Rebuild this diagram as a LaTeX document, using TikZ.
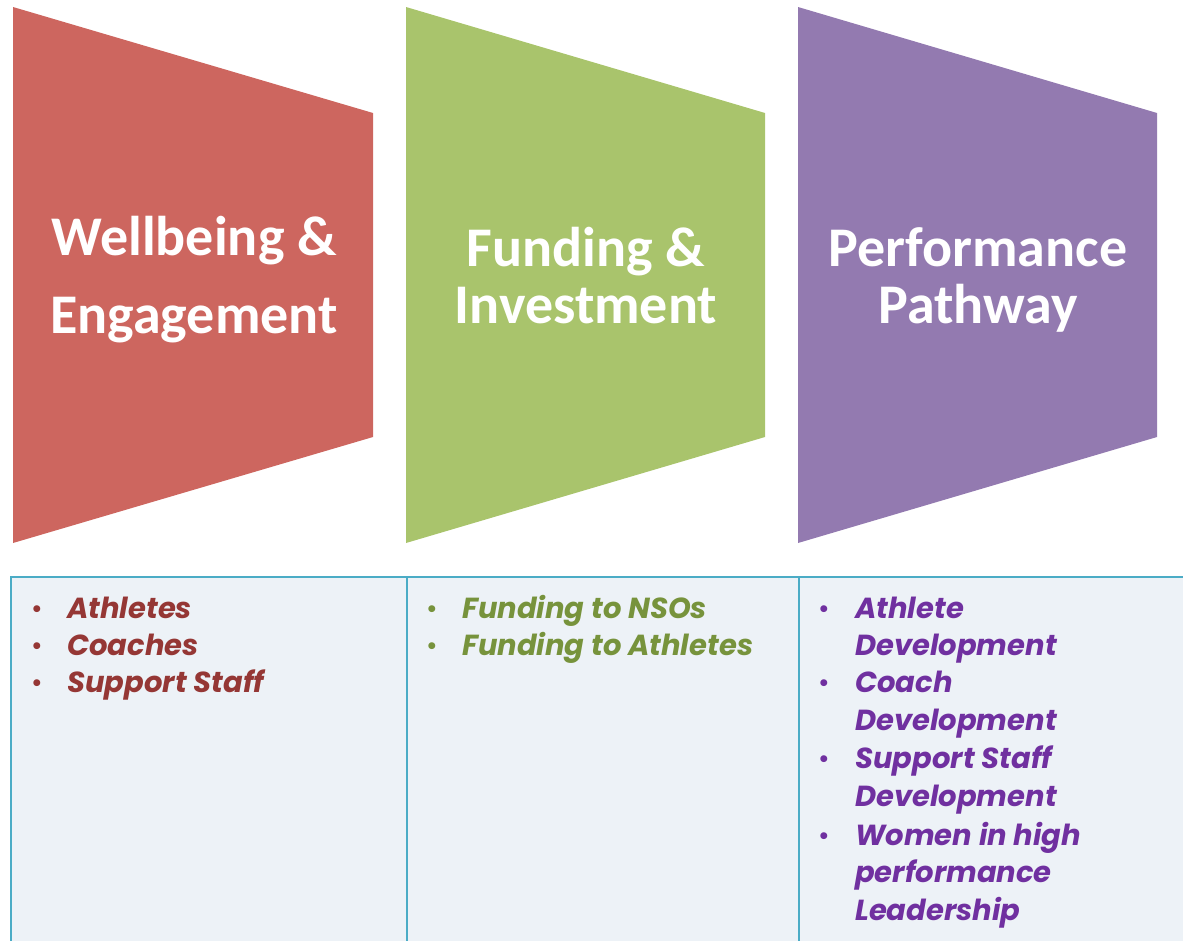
\documentclass[tikz,border=0pt]{standalone}
\usepackage{fontspec}
\setmainfont{Carlito}
\newfontfamily\itemfont{Poppins}
\definecolor{redfill}{HTML}{CD665F}
\definecolor{greenfill}{HTML}{A9C46C}
\definecolor{purplefill}{HTML}{937AB0}
\definecolor{redtext}{HTML}{953735}
\definecolor{greentext}{HTML}{77933C}
\definecolor{purpletext}{HTML}{7030A0}
\definecolor{tableline}{HTML}{4BACC6}
\definecolor{tablefill}{HTML}{EDF2F7}
\tikzset{
  title/.style={text=white, anchor=base, inner sep=0pt, font=\fontsize{56}{66}\selectfont\bfseries},
  itemtext/.style={anchor=base west, inner sep=0pt, font=\itemfont\fontsize{29}{34}\selectfont\bfseries\itshape},
  bul/.style={anchor=base, inner sep=0pt, font=\itemfont\fontsize{28}{32}\selectfont},
  grid/.style={draw=tableline, line width=2.5pt}
}
\begin{document}
\begin{tikzpicture}[x=1pt,y=-1pt]
\useasboundingbox (0,0) rectangle (1183,940);
% shapes
\fill[redfill] (13,7) -- (373,113) -- (373,437) -- (13,543) -- cycle;
\fill[greenfill] (406,7) -- (765,113) -- (765,437) -- (406,543) -- cycle;
\fill[purplefill] (798,7) -- (1157,113) -- (1157,437) -- (798,543) -- cycle;
% titles
\node[title] (t1a) at (194,255) {Wellbeing \&};
\node[title] (t1b) at (194,333) {Engagement};
\node[title] (t2a) at (586,266) {Funding \&};
\node[title] (t2b) at (586,323) {Investment};
\node[title] (t3a) at (978,266) {Performance};
\node[title] (t3b) at (978,323) {Pathway};
% table
\begin{scope}
\clip (0,0) rectangle (1183,940);
\fill[tablefill] (11,577) rectangle (1200,960);
\draw[grid] (11,960) -- (11,577) -- (1200,577);
\draw[grid] (407,577) -- (407,960);
\draw[grid] (799,577) -- (799,960);
\end{scope}
% column 1
\begin{scope}[every node/.append style={text=redtext}]
\node[bul] (b11) at (37,618) {•};
\node[itemtext] (i11) at (67,618) {Athletes};
\node[bul] (b12) at (37,655) {•};
\node[itemtext] (i12) at (67,655) {Coaches};
\node[bul] (b13) at (37,692) {•};
\node[itemtext] (i13) at (67,692) {Support Staff};
\end{scope}
% column 2
\begin{scope}[every node/.append style={text=greentext}]
\node[bul] (b21) at (432,618) {•};
\node[itemtext] (i21) at (462,618) {Funding to NSOs};
\node[bul] (b22) at (432,655) {•};
\node[itemtext] (i22) at (462,655) {Funding to Athletes};
\end{scope}
% column 3
\begin{scope}[every node/.append style={text=purpletext}]
\node[bul] (b31) at (824,618) {•};
\node[itemtext] (i31) at (855,618) {Athlete};
\node[itemtext] (i32) at (855,655) {Development};
\node[bul] (b33) at (824,692) {•};
\node[itemtext] (i33) at (855,692) {Coach};
\node[itemtext] (i34) at (855,730) {Development};
\node[bul] (b35) at (824,768) {•};
\node[itemtext] (i35) at (855,768) {Support Staff};
\node[itemtext] (i36) at (855,806) {Development};
\node[bul] (b37) at (824,845) {•};
\node[itemtext] (i37) at (855,845) {Women in high};
\node[itemtext] (i38) at (855,882) {performance};
\node[itemtext] (i39) at (855,920) {Leadership};
\end{scope}
\end{tikzpicture}
\end{document}
